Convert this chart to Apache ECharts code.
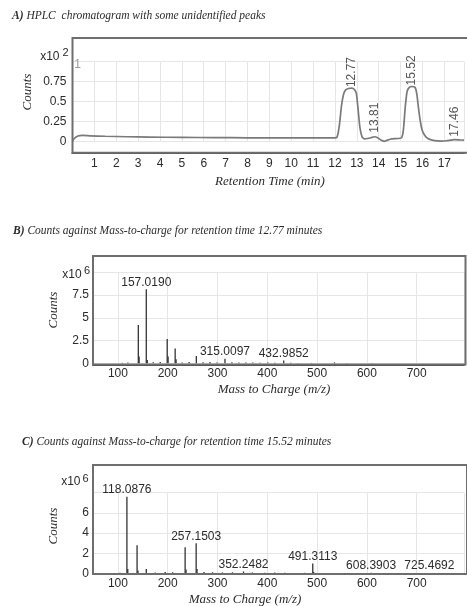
<!DOCTYPE html>
<html>
<head>
<meta charset="utf-8">
<script src="https://cdn.jsdelivr.net/npm/echarts@6.0.0/dist/echarts.min.js"></script>
<style>
  html, body { margin: 0; padding: 0; background: #ffffff; }
  #chart { width: 467px; height: 606px; }
</style>
</head>
<body>
<div id="chart"></div>
<script>
// ---- Panel A: HPLC chromatogram (retention time in min, counts x10^2) ----
const rtMinutes = [0, 0.1, 0.25, 0.45, 0.8, 1.5, 2.5, 3.5, 5, 6.5, 8, 9.5, 11, 12.0,
  12.1, 12.2, 12.3, 12.4, 12.5, 12.62, 12.77, 12.9, 12.98, 13.06, 13.14, 13.24, 13.35,
  13.5, 13.65, 13.81, 13.95, 14.1, 14.25, 14.4, 14.6, 14.9,
  15.05, 15.13, 15.22, 15.3, 15.4, 15.52, 15.66, 15.74, 15.82, 15.9, 15.98, 16.1, 16.25,
  16.45, 16.7, 16.9, 17.1, 17.3, 17.46, 17.7, 17.9];
const rtCounts = [0.01, 0.045, 0.072, 0.078, 0.074, 0.068, 0.062, 0.058, 0.054, 0.051, 0.049, 0.048, 0.047, 0.047,
  0.06, 0.2, 0.45, 0.6, 0.65, 0.665, 0.67, 0.65, 0.6, 0.4, 0.18, 0.06, 0.035,
  0.04, 0.05, 0.062, 0.05, 0.02, 0.005, 0.02, 0.035, 0.04,
  0.05, 0.15, 0.45, 0.63, 0.68, 0.69, 0.68, 0.6, 0.42, 0.26, 0.15, 0.08, 0.04,
  0.02, 0.01, 0.008, 0.012, 0.02, 0.025, 0.022, 0.02];
const rtPeakLabels = [12.77, 13.81, 15.52, 17.46];

// ---- Panel B: mass spectrum at 12.77 min (m/z, counts x10^6) ----
const mzB = [109, 120, 141.0, 142.6, 157.0190, 159, 171, 185, 199.0, 200.8, 215.0, 216.8, 229, 243,
  257.5, 271, 285, 299, 315.0097, 329, 343, 357, 371, 385, 401, 415, 432.9852, 447, 461, 489, 535, 560, 610];
const countsB = [0.05, 0.08, 4.2, 0.75, 8.13, 0.35, 0.12, 0.15, 2.68, 0.75, 1.62, 0.45, 0.1, 0.15,
  0.8, 0.12, 0.15, 0.1, 0.5, 0.12, 0.1, 0.08, 0.08, 0.06, 0.1, 0.06, 0.3, 0.05, 0.04, 0.04, 0.1, 0.03, 0.03];
const labelsB = [157.0190, 315.0097, 432.9852];

// ---- Panel C: mass spectrum at 15.52 min (m/z, counts x10^6) ----
const mzC = [104, 118.0876, 119.8, 138.5, 140.3, 157, 175, 195, 210, 235, 236.8, 257.1503, 258.9, 273, 290,
  310, 330, 352.2482, 370, 395, 415, 435, 455, 475, 491.3113, 493, 510, 535, 608.3903, 725.4692];
const countsC = [0.08, 7.6, 0.45, 2.8, 0.3, 0.45, 0.1, 0.15, 0.12, 2.6, 0.4, 3.0, 0.45, 0.15, 0.12,
  0.1, 0.12, 0.2, 0.1, 0.08, 0.1, 0.08, 0.06, 0.07, 1.0, 0.15, 0.06, 0.05, 0.08, 0.05];
const labelsC = [118.0876, 257.1503, 352.2482, 491.3113, 608.3903, 725.4692];

const SANS = '"Liberation Sans", Arial, sans-serif';
const SERIF = '"Liberation Serif", "Times New Roman", serif';
const TXT = '#2b2b2b';
const GRIDC = '#e6e6e6';
const FRAME = '#6e6e6e';

function spectrumData(mz, counts, labelled) {
  return mz.map((m, i) => {
    const item = { value: [m, counts[i]] };
    if (labelled.indexOf(m) >= 0) {
      item.label = { show: true };
    }
    return item;
  });
}

const chromData = rtMinutes.map((t, i) => [t, rtCounts[i]]);
const labelDist = { 12.77: 1, 13.81: 4, 15.52: 1, 17.46: 3 };
const chromLabelData = rtPeakLabels.map(t => ({
  value: [t, rtCounts[rtMinutes.indexOf(t)]],
  label: { distance: labelDist[t] }
}));

function yAxisBase(gridIndex, max, interval, margin, hideTop) {
  return {
    type: 'value', gridIndex: gridIndex, min: 0, max: max, interval: interval,
    axisLine: { show: false }, axisTick: { show: false },
    axisLabel: {
      margin: margin, color: TXT, fontFamily: SANS, fontSize: 12,
      formatter: v => (hideTop && v >= max) ? '' : String(v)
    },
    splitLine: { show: true, lineStyle: { color: GRIDC, width: 1 } }
  };
}

function mzAxis(gridIndex, offset, margin) {
  return {
    type: 'value', gridIndex: gridIndex, min: 50, max: 795,
    minInterval: 100, maxInterval: 100,
    offset: offset,
    axisLine: { show: true, onZero: false, lineStyle: { color: '#444', width: 2 } },
    axisTick: { show: false },
    axisLabel: {
      margin: margin, color: TXT, fontFamily: SANS, fontSize: 12,
      formatter: v => (v % 100 === 0) ? String(v) : ''
    },
    splitLine: { show: true, lineStyle: { color: GRIDC, width: 1 } }
  };
}

function txt(text, x, y, opts) {
  opts = opts || {};
  return {
    type: 'text', x: x, y: y, rotation: opts.rotation || 0, z: 10,
    style: {
      text: text, x: 0, y: 0,
      font: opts.font || ('12px ' + SANS),
      fill: opts.fill || TXT,
      align: opts.align || 'center', textAlign: opts.align || 'center',
      verticalAlign: 'middle', textVerticalAlign: 'middle'
    }
  };
}

function frame(x, y, w, h) {
  return {
    type: 'rect', z: 5, silent: true,
    shape: { x: x, y: y, width: w, height: h },
    style: { fill: 'none', stroke: FRAME, lineWidth: 2 }
  };
}

function panelTitle(text, left, top) {
  return {
    text: text, left: left, top: top, padding: 0,
    textStyle: {
      fontFamily: SERIF, fontStyle: 'italic', fontWeight: 'normal', fontSize: 11.5, color: TXT,
      rich: { b: { fontFamily: SERIF, fontStyle: 'italic', fontWeight: 'bold', fontSize: 11.5, color: TXT } }
    }
  };
}

const axisNameFont = 'italic 13px ' + SERIF;

const option = {
  animation: false,
  backgroundColor: '#ffffff',
  title: [
    panelTitle('{b|A)} HPLC  chromatogram with some unidentified peaks', 12, 10),
    panelTitle('{b|B)} Counts against Mass-to-charge for retention time 12.77 minutes', 13, 225),
    panelTitle('{b|C)} Counts against Mass-to-charge for retention time 15.52 minutes', 22, 436)
  ],
  grid: [
    { left: 72.5, top: 61.7, width: 394.5, height: 80, containLabel: false },
    { left: 93, top: 272.3, width: 372.5, height: 91, containLabel: false },
    { left: 93, top: 492.7, width: 372.5, height: 80.8, containLabel: false }
  ],
  xAxis: [
    {
      type: 'value', gridIndex: 0, min: 0, max: 17.9, interval: 1, offset: 11,
      axisLine: { show: true, onZero: false, lineStyle: { color: '#444', width: 2 } },
      axisTick: { show: false },
      axisLabel: {
        margin: 5, color: TXT, fontFamily: SANS, fontSize: 12,
        formatter: v => (v > 0 && Number.isInteger(v)) ? String(v) : ''
      },
      splitLine: { show: true, lineStyle: { color: GRIDC, width: 1 } }
    },
    mzAxis(1, 1.5, 3),
    mzAxis(2, 0.5, 4)
  ],
  yAxis: [
    yAxisBase(0, 1, 0.25, 6, true),
    yAxisBase(1, 10, 2.5, 4, true),
    yAxisBase(2, 8, 2, 4, true)
  ],
  series: [
    {
      name: 'Chromatogram', type: 'line', xAxisIndex: 0, yAxisIndex: 0,
      data: chromData, smooth: 0.2, showSymbol: false, clip: false,
      lineStyle: { color: '#7a7a7a', width: 1.7 }
    },
    {
      name: 'Peak labels', type: 'scatter', xAxisIndex: 0, yAxisIndex: 0,
      data: chromLabelData, symbolSize: 0.1, clip: false,
      itemStyle: { color: 'rgba(0,0,0,0)' },
      label: {
        show: true, position: 'top', rotate: 90, align: 'left', verticalAlign: 'middle',
        color: TXT, fontFamily: SANS, fontSize: 12, distance: 2,
        formatter: p => p.value[0].toFixed(2)
      }
    },
    {
      name: 'Spectrum 12.77', type: 'bar', xAxisIndex: 1, yAxisIndex: 1,
      data: spectrumData(mzB, countsB, labelsB), barWidth: 1.3, clip: false,
      itemStyle: { color: '#333333' },
      label: {
        show: false, position: 'top', distance: 1, color: TXT, fontFamily: SANS, fontSize: 12,
        formatter: p => p.value[0].toFixed(4)
      }
    },
    {
      name: 'Spectrum 15.52', type: 'bar', xAxisIndex: 2, yAxisIndex: 2,
      data: spectrumData(mzC, countsC, labelsC), barWidth: 1.3, clip: false,
      itemStyle: { color: '#333333' },
      label: {
        show: false, position: 'top', distance: 1, color: TXT, fontFamily: SANS, fontSize: 12,
        formatter: p => p.value[0].toFixed(4)
      }
    }
  ],
  graphic: [
    frame(72.5, 38, 400, 114.7),
    frame(93, 256, 372.5, 108.5),
    frame(93, 465, 374, 109),
    // exponent markers
    txt('x10', 59.5, 56.5, { align: 'right' }),
    txt('2', 65.5, 53, { font: '11px ' + SANS }),
    txt('1', 77.5, 65, { fill: '#9a9a9a' }),
    txt('x10', 81.7, 275, { align: 'right' }),
    txt('6', 87, 270.7, { font: '11px ' + SANS }),
    txt('x10', 80.5, 482, { align: 'right' }),
    txt('6', 85.5, 478.5, { font: '11px ' + SANS }),
    // axis names
    txt('Counts', 27.5, 92, { rotation: Math.PI / 2, font: axisNameFont }),
    txt('Retention Time (min)', 270, 181.5, { font: axisNameFont }),
    txt('Counts', 54, 310, { rotation: Math.PI / 2, font: axisNameFont }),
    txt('Mass to Charge (m/z)', 274, 390, { font: axisNameFont }),
    txt('Counts', 54, 526, { rotation: Math.PI / 2, font: axisNameFont }),
    txt('Mass to Charge (m/z)', 245, 599.5, { font: axisNameFont })
  ]
};

const chart = echarts.init(document.getElementById('chart'), null, { renderer: 'canvas' });
chart.setOption(option);
</script>
</body>
</html>
